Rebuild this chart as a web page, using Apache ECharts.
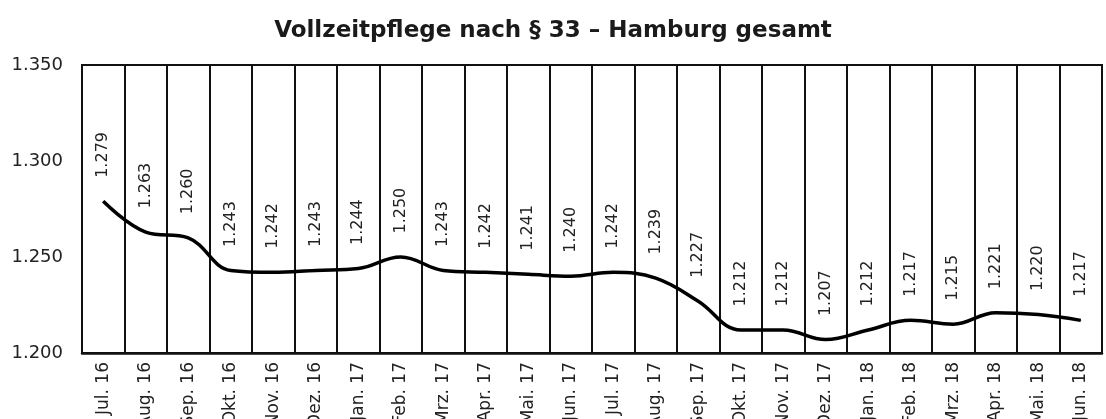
<!DOCTYPE html>
<html lang="de">
<head>
<meta charset="utf-8">
<title>Vollzeitpflege nach § 33</title>
<script src="https://cdn.jsdelivr.net/npm/echarts@6/dist/echarts.min.js"></script>
<style>
  html, body { margin: 0; padding: 0; background: #fff; }
  #main { width: 1106px; height: 419px; }
</style>
</head>
<body>
<div id="main"></div>
<script>
// Monate (Kategorien)
var months = ['Jul. 16', 'Aug. 16', 'Sep. 16', 'Okt. 16', 'Nov. 16', 'Dez. 16',
  'Jan. 17', 'Feb. 17', 'Mrz. 17', 'Apr. 17', 'Mai. 17', 'Jun. 17',
  'Jul. 17', 'Aug. 17', 'Sep. 17', 'Okt. 17', 'Nov. 17', 'Dez. 17',
  'Jan. 18', 'Feb. 18', 'Mrz. 18', 'Apr. 18', 'Mai. 18', 'Jun. 18'];
// Fälle Vollzeitpflege
var faelle = [1279, 1263, 1260, 1243, 1242, 1243, 1244, 1250, 1243, 1242, 1241, 1240,
  1242, 1239, 1227, 1212, 1212, 1207, 1212, 1217, 1215, 1221, 1220, 1217];
// y-Achse
var yMin = 1200, yMax = 1350, yStep = 50;

var FONT = 'DejaVu Sans, Liberation Sans, sans-serif';

// 1279 -> "1.279"
function fmt(v) {
  var s = String(Math.round(v));
  return s.replace(/\B(?=(\d{3})+(?!\d))/g, '.');
}

var myChart = echarts.init(document.getElementById('main'));
var option = {
  animation: false,
  textStyle: { fontFamily: FONT },
  title: {
    text: 'Vollzeitpflege nach § 33 – Hamburg gesamt',
    left: 'center',
    top: 15,
    textStyle: { fontSize: 23, fontWeight: 'bold', color: '#1a1a1a', fontFamily: FONT }
  },
  grid: {
    left: 82, right: 4, top: 65, bottom: 66,
    show: true, borderColor: '#111', borderWidth: 2,
    containLabel: false,
    outerBoundsMode: 'none'
  },
  xAxis: {
    type: 'category',
    data: months,
    boundaryGap: true,
    axisTick: { show: false },
    axisLine: { show: true, lineStyle: { color: '#111', width: 2.5 } },
    splitLine: { show: true, interval: 0, lineStyle: { color: '#111', width: 2 } },
    axisLabel: {
      interval: 0, rotate: 90, margin: 9, color: '#222', fontSize: 17,
      fontFamily: FONT
    }
  },
  yAxis: {
    type: 'value',
    min: yMin, max: yMax, interval: yStep,
    axisLine: { show: false },
    axisTick: { show: false },
    splitLine: { show: false },
    axisLabel: {
      margin: 19, color: '#222', fontSize: 18,
      fontFamily: FONT,
      formatter: fmt
    }
  },
  series: [{
    type: 'line',
    data: faelle,
    smooth: 0.4,
    showSymbol: true,
    symbol: 'circle',
    symbolSize: 1,
    itemStyle: { color: '#000' },
    lineStyle: { color: '#000', width: 3.5 },
    label: {
      show: true,
      position: 'top',
      distance: 23,
      rotate: 90,
      align: 'left',
      verticalAlign: 'middle',
      color: '#222',
      fontSize: 16,
      fontFamily: FONT,
      formatter: function (p) { return fmt(p.value); }
    }
  }]
};
myChart.setOption(option);
</script>
</body>
</html>
